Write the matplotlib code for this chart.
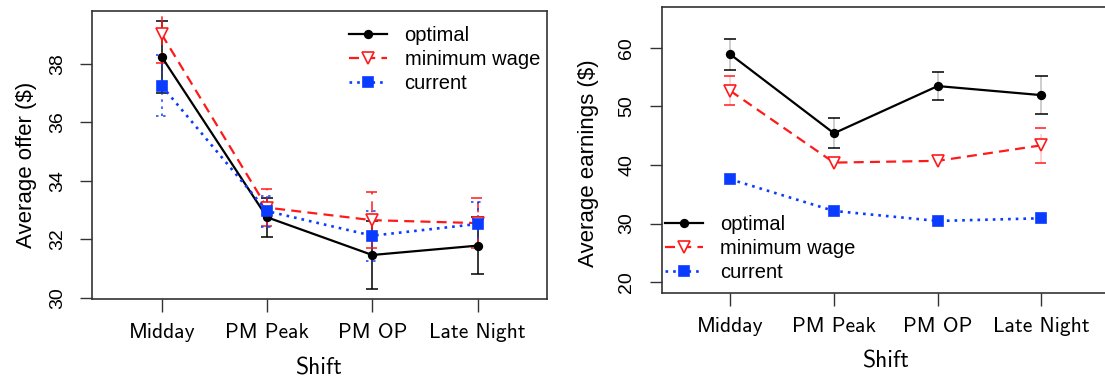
import numpy as np
import matplotlib
matplotlib.use("Agg")
import matplotlib.pyplot as plt

# shift categories on the x axis
shifts = ['Midday', 'PM Peak', 'PM OP', 'Late Night']
series = ['optimal', 'minimum wage', 'current']

# average offer ($) with half-width of the error bars
offer_optimal = [38.23, 32.75, 31.46, 31.78]
offer_optimal_err = [1.22, 0.66, 1.15, 0.97]
offer_minwage = [39.00, 33.08, 32.65, 32.55]
offer_minwage_err = [0.97, 0.62, 0.96, 0.86]
offer_current = [37.24, 32.96, 32.12, 32.52]
offer_current_err = [1.04, 0.53, 0.85, 0.74]

# average earnings ($); nan = no error bar drawn
earn_optimal = [58.87, 45.40, 53.45, 51.90]
earn_optimal_err = [2.62, 2.55, 2.40, 3.27]
earn_minwage = [52.65, 40.40, 40.70, 43.35]
earn_minwage_err = [2.50, np.nan, np.nan, 3.00]
earn_current = [37.56, 32.16, 30.45, 30.91]
earn_current_err = [np.nan, np.nan, np.nan, np.nan]

RED = '#ff1a1a'
BLUE = '#0a3cff'
styles = [
    dict(color='black', marker='o', ms=5.5, mfc='black', lw=1.6, dashes=None),
    dict(color=RED, marker='v', ms=9, mfc='white', lw=1.6, dashes=(4.5, 2.8)),
    dict(color=BLUE, marker='s', ms=7, mfc=BLUE, lw=1.9, dashes=(1.0, 1.9)),
]
SANS = ['Liberation Sans', 'DejaVu Sans']


def errbars(ax, x, y, err, st, bar_alpha=1.0):
    y = np.asarray(y)
    err = np.asarray(err)
    ok = ~np.isnan(err)
    x = np.asarray(x)[ok]
    lo = (y - err)[ok]
    hi = (y + err)[ok]
    kw = dict(colors=st['color'], linewidth=1.1)
    if st['dashes'] is not None:
        kw['linestyles'] = [(0, tuple(d * 1.6 for d in st['dashes']))]
    w = 0.058
    ax.vlines(x, lo, hi, alpha=bar_alpha, **kw)
    ax.hlines(lo, x - w, x + w, **kw)
    ax.hlines(hi, x - w, x + w, **kw)


def panel(ax, data, ylim, yticks, ylabel, ylab_pos, leg_pos, bar_alpha):
    x = np.arange(1, len(shifts) + 1)
    for (vals, err), st, name in zip(data, styles, series):
        line, = ax.plot(x, vals, color=st['color'], lw=st['lw'],
                        marker=st['marker'], ms=st['ms'], mfc=st['mfc'],
                        mec=st['color'], mew=1.2, label=name, zorder=3)
        if st['dashes'] is not None:
            line.set_dashes(st['dashes'])
        errbars(ax, x, vals, err, st, bar_alpha)

    ax.set_xlim(0.34, 4.66)
    ax.set_ylim(*ylim)
    ax.set_xticks(x)
    ax.set_xticklabels(shifts, family='cmss10', fontsize=15.5)
    ax.set_yticks(yticks)
    ax.set_yticklabels([str(t) for t in yticks], family=SANS, fontsize=14,
                       rotation=90, va='center')
    ax.tick_params(axis='x', length=9, width=1.0, color='#333333', pad=8)
    ax.tick_params(axis='y', length=9, width=1.0, color='#333333', pad=10)
    for s in ax.spines.values():
        s.set_color('#333333')
        s.set_linewidth(1.2)

    ax.set_ylabel(ylabel, family=SANS, fontsize=16)
    ax.yaxis.set_label_coords(*ylab_pos)
    ax.set_xlabel('Shift', family='cmss10', fontsize=17)
    ax.xaxis.set_label_coords(0.5, -0.2)

    ax.legend(loc='upper left', bbox_to_anchor=leg_pos, frameon=False,
              prop=dict(family=SANS, size=14.5), handlelength=1.9,
              handletextpad=0.85, labelspacing=0.25, borderpad=0,
              borderaxespad=0)


fig = plt.figure(figsize=(11.05, 3.81), dpi=100)
ax1 = fig.add_axes([0.0835, 0.2144, 0.4115, 0.7575])
ax2 = fig.add_axes([0.5988, 0.2302, 0.4057, 0.7507])

panel(ax1,
      [(offer_optimal, offer_optimal_err),
       (offer_minwage, offer_minwage_err),
       (offer_current, offer_current_err)],
      (29.945, 39.81), [30, 32, 34, 36, 38], 'Average offer ($)',
      (-0.122, 0.465), (0.565, 0.948), 1.0)

panel(ax2,
      [(earn_optimal, earn_optimal_err),
       (earn_minwage, earn_minwage_err),
       (earn_current, earn_current_err)],
      (18.12, 66.88), [20, 30, 40, 50, 60], 'Average earnings ($)',
      (-0.14, 0.456), (0.0074, 0.274), 0.25)

fig.savefig('out.png', dpi=100)
